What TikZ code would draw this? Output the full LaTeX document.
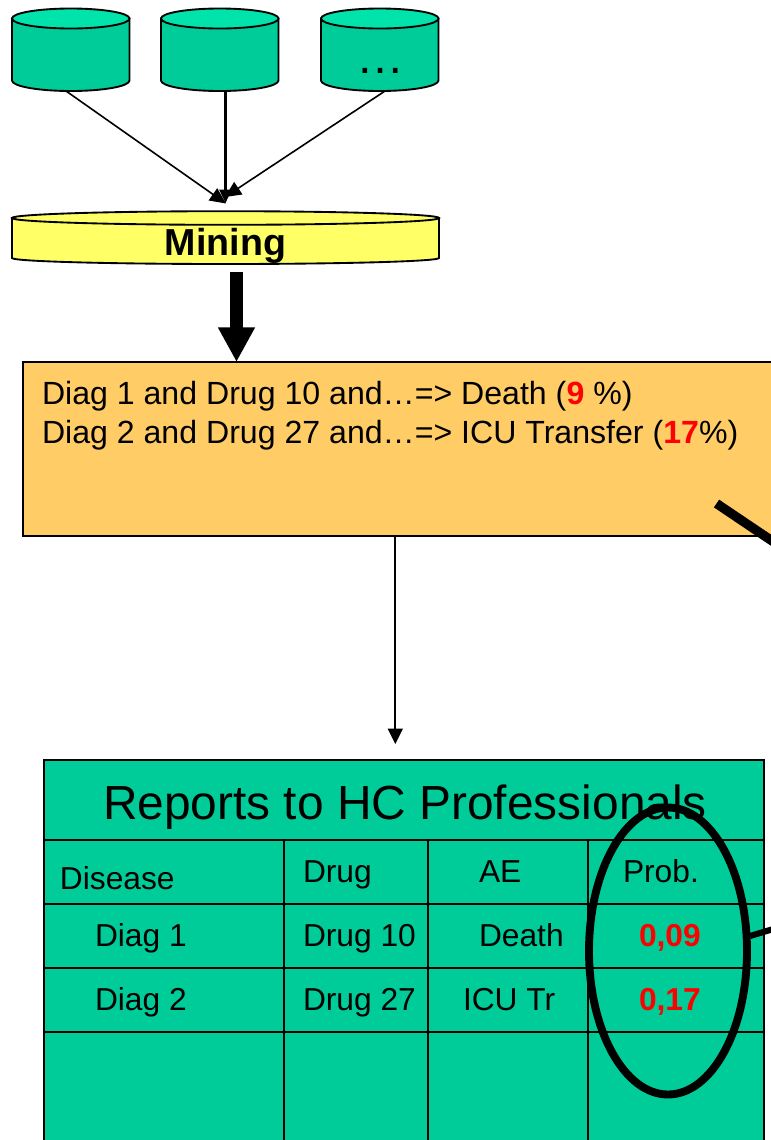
\documentclass[tikz,border=0pt]{standalone}
\usepackage{fontspec}
\setmainfont{Liberation Sans}
\usetikzlibrary{arrows.meta}
\definecolor{dbgreen}{HTML}{00CC99}
\definecolor{dbtop}{HTML}{00E3AA}
\definecolor{miney}{HTML}{FFFF66}
\definecolor{boxor}{HTML}{FFCC66}
\tikzset{
  x=0.75pt,y=-0.75pt,
  edge/.style={draw=black,line width=1.2pt},
  thinarrow/.style={edge,-{Triangle[length=12pt,width=11pt]}},
  txt/.style={anchor=base west,inner sep=0pt,outer sep=0pt,text=black},
  rowtxt/.style={txt,font=\fontsize{23.8}{28}\selectfont},
  probtxt/.style={txt,text=red,font=\fontsize{23.8}{28}\selectfont\bfseries},
  tline/.style={draw=black,line width=1.4pt},
  cylshape/.style={draw=black,line width=1.4pt},
  loupe/.style={draw=black,line width=5.9pt},
}
\newcommand{\dbcyl}[3]{% left, right, topcentre y
  \path[cylshape,fill=dbgreen] (#1,#3) -- (#1,#3+62) arc[start angle=180,end angle=0,x radius={(#2-#1)/2},y radius=10.5] -- (#2,#3) -- cycle;
  \path[cylshape,fill=dbtop] ({(#1+#2)/2},#3) ellipse[x radius={(#2-#1)/2},y radius=10];
}
\begin{document}
\begin{tikzpicture}
\useasboundingbox (0,0) rectangle (771,1140);
\clip (0,0) rectangle (771,1140);
% databases
\dbcyl{12}{129.5}{18.5}
\dbcyl{161}{278.5}{18.5}
\dbcyl{321}{438.5}{18.5}
\node[txt,font=\fontsize{36}{40}\selectfont] (dots) at (356,73.5) {…};
% mining
\path[cylshape,fill=miney] (12,218) -- (12,258) arc[start angle=180,end angle=0,x radius=213.5,y radius=6] -- (439,218) -- cycle;
\path[cylshape,fill=miney] (225.5,218) ellipse[x radius=213.5,y radius=6.8];
\node[anchor=base,inner sep=0,font=\fontsize{28.2}{30}\selectfont\bfseries] (mine) at (225.5,255.5) {Mining};
\coordinate (dbaout) at (66,91);
\coordinate (dbbout) at (225.5,91);
\coordinate (dbcout) at (385,91);
\coordinate (minetopl) at (226,203.5);
\coordinate (minetopm) at (225.5,203);
\coordinate (minetopr) at (225,197);
\draw[thinarrow] (dbaout) -- (minetopl);
\draw[thinarrow] (dbcout) -- (minetopr);
\draw[edge,line width=1.8pt,-{Triangle[length=10pt,width=9pt]}] (dbbout) -- (minetopm);
% orange box
\node[draw=black,line width=1.4pt,fill=boxor,anchor=north west,outer sep=0pt,minimum width=600pt,minimum height=130.5pt,inner sep=0] (rules) at (22.8,362.3) {};
\coordinate (minebot) at (236.5,272);
\coordinate (rulestop) at (236.5,362);
\draw[line width=9.8pt,-{Triangle[length=26pt,width=26pt,sep=0pt]}] (minebot) -- (rulestop);
\node[txt,font=\fontsize{24.07}{28}\selectfont] (r1) at (42,404) {Diag 1 and Drug 10 and…=> Death (\textcolor{red}{\textbf{9}} \%)};
\node[txt,font=\fontsize{24.07}{28}\selectfont] (r2) at (42,443) {Diag 2 and Drug 27 and…=> ICU Transfer (\textcolor{red}{\textbf{17}}\%)};
\coordinate (rulesout) at (395.3,536);
\coordinate (tabletop) at (395.3,744);
\draw[edge,line width=1.7pt,-{Triangle[length=11.5pt,width=11pt]}] (rulesout) -- (tabletop);
% table
\node[draw=black,line width=1.4pt,fill=dbgreen,anchor=north west,outer sep=0pt,minimum width=540pt,minimum height=330pt,inner sep=0] (table) at (44,760) {};
\foreach \yy in {840,904,968,1032} \draw[tline] (44,\yy) -- (764,\yy);
\foreach \xx in {284,428,588} \draw[tline] (\xx,840) -- (\xx,1140);
\node[txt,font=\fontsize{35.9}{40}\selectfont] (title) at (103,819) {Reports to HC Professionals};
\node[rowtxt] (h1) at (60,889) {Disease};
\node[rowtxt] (h2) at (303,882) {Drug};
\node[rowtxt] (h3) at (479,882) {AE};
\node[rowtxt] (h4) at (623,882) {Prob.};
\node[rowtxt] (a1) at (95,946) {Diag 1};
\node[rowtxt] (a2) at (303,946) {Drug 10};
\node[rowtxt] (a3) at (479,946) {Death};
\node[probtxt] (a4) at (639,946) {0,09};
\node[rowtxt] (b1) at (95,1010) {Diag 2};
\node[rowtxt] (b2) at (303,1010) {Drug 27};
\node[rowtxt] (b3) at (463,1010) {ICU Tr};
\node[probtxt] (b4) at (639,1010) {0,17};
% loupe
\draw[loupe] (668,951) ellipse[x radius=79,y radius=143.5];
\coordinate (ovalout) at (750,936);
\coordinate (offr) at (790,924);
\coordinate (rulesmark) at (716.5,503.5);
\coordinate (offq) at (790,553);
\draw[loupe,line width=4.6pt] (ovalout) -- (offr);
\draw[loupe,line width=7pt] (rulesmark) -- (offq);
\end{tikzpicture}
\end{document}
